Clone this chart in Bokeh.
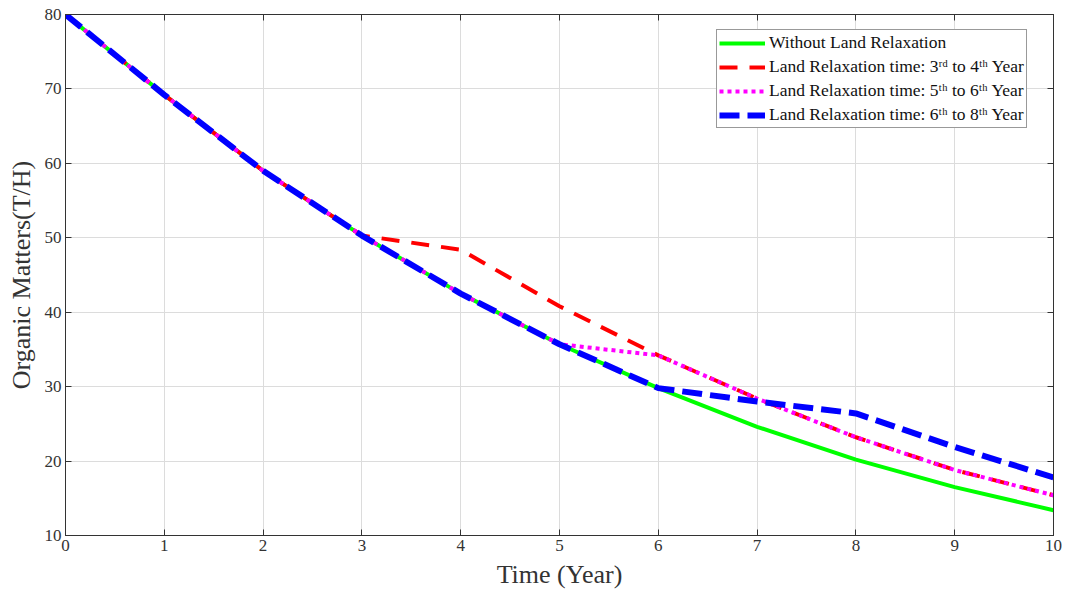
from bokeh.plotting import figure
from bokeh.models import LinearAxis, Range1d, Legend, LegendItem, FixedTicker
from bokeh.embed import file_html
from bokeh.resources import INLINE

years = [0, 1, 2, 3, 4, 5, 6, 7, 8, 9, 10]
without_relax = [80.0, 69.2, 59.0, 50.3, 42.5, 35.7, 29.8, 24.6, 20.2, 16.5, 13.4]
relax_3_4 = [80.0, 69.2, 59.0, 50.3, 48.4, 40.8, 34.2, 28.4, 23.2, 18.8, 15.4]
relax_5_6 = [80.0, 69.2, 59.0, 50.3, 42.5, 35.7, 34.2, 28.4, 23.2, 18.8, 15.4]
relax_6_8 = [80.0, 69.2, 59.0, 50.3, 42.5, 35.7, 29.8, 28.0, 26.4, 21.9, 17.8]

x_ticks = list(range(0, 11))
y_ticks = [10, 20, 30, 40, 50, 60, 70, 80]

labels = [
    "Without Land Relaxation",
    "Land Relaxation time: 3\u02b3\u1d48 to 4\u1d57\u02b0 Year",
    "Land Relaxation time: 5\u1d57\u02b0 to 6\u1d57\u02b0 Year",
    "Land Relaxation time: 6\u1d57\u02b0 to 8\u1d57\u02b0 Year",
]

FONT = "Liberation Serif"

p = figure(width=1070, height=597, output_backend="svg", toolbar_location=None,
           x_range=Range1d(0, 10), y_range=Range1d(10, 80),
           min_border_left=65, min_border_right=17, min_border_top=14, min_border_bottom=62)
p.background_fill_color = "white"
p.border_fill_color = "white"
p.outline_line_color = "#333333"
p.outline_line_width = 1

g = p.line(years, without_relax, line_color="#00ff00", line_width=4)
r = p.line(years, relax_3_4, line_color="#ff0000", line_width=4, line_dash="18 12")
m = p.line(years, relax_5_6, line_color="#ff00ff", line_width=4, line_dash="4 4")
b = p.line(years, relax_6_8, line_color="#0000ff", line_width=6, line_dash="20 8")

for ax in (p.xaxis[0], p.yaxis[0]):
    ax.major_tick_in = 6
    ax.major_tick_out = 0
    ax.minor_tick_in = 0
    ax.minor_tick_out = 0
    ax.axis_line_color = "#333333"
    ax.major_tick_line_color = "#333333"
    ax.major_label_text_font = FONT
    ax.major_label_text_font_size = "17px"
    ax.major_label_text_color = "#333333"
    ax.axis_label_text_font = FONT
    ax.axis_label_text_font_size = "26px"
    ax.axis_label_text_font_style = "normal"
    ax.axis_label_text_color = "#333333"
    ax.major_label_standoff = 4
    ax.axis_label_standoff = 6

p.xaxis[0].ticker = FixedTicker(ticks=x_ticks)
p.yaxis[0].ticker = FixedTicker(ticks=y_ticks)
p.xaxis[0].axis_label = "Time (Year)"
p.yaxis[0].axis_label = "Organic Matters(T/H)"

for loc, ticks in (("right", y_ticks), ("above", x_ticks)):
    ax = LinearAxis(ticker=FixedTicker(ticks=ticks))
    ax.major_tick_in = 6
    ax.major_tick_out = 0
    ax.minor_tick_in = 0
    ax.minor_tick_out = 0
    ax.major_label_text_font_size = "1px"
    ax.major_label_text_color = None
    ax.major_label_text_alpha = 0
    ax.major_label_standoff = 0
    ax.axis_line_color = "#333333"
    ax.major_tick_line_color = "#333333"
    p.add_layout(ax, loc)

p.xgrid.ticker = FixedTicker(ticks=x_ticks)
p.ygrid.ticker = FixedTicker(ticks=y_ticks)
p.grid.grid_line_color = "#dcdcdc"
p.grid.grid_line_width = 1

legend = Legend(items=[LegendItem(label=labels[0], renderers=[g]),
                       LegendItem(label=labels[1], renderers=[r]),
                       LegendItem(label=labels[2], renderers=[m]),
                       LegendItem(label=labels[3], renderers=[b])],
                location=(651, 407))
legend.label_text_font = FONT
legend.label_text_font_size = "17.5px"
legend.label_text_color = "#111111"
legend.glyph_width = 46
legend.glyph_height = 20
legend.label_height = 20
legend.label_standoff = 4
legend.spacing = 3
legend.padding = 2
legend.margin = 0
legend.border_line_color = "#333333"
legend.border_line_width = 1
legend.background_fill_alpha = 1
p.add_layout(legend, "center")

open("out.html", "w").write(file_html(p, INLINE))
